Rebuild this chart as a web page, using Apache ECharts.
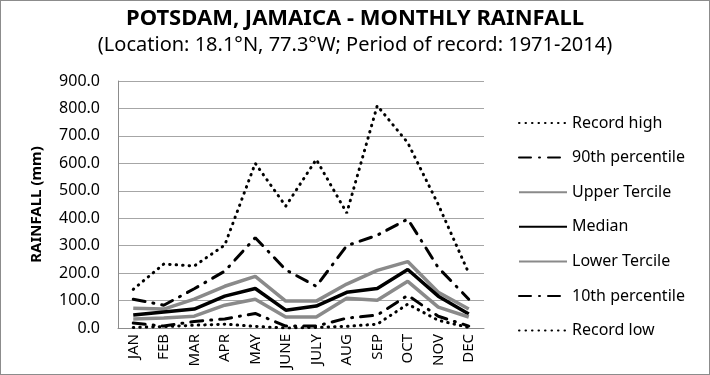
<!DOCTYPE html>
<html>
<head>
<meta charset="utf-8">
<script src="https://cdn.jsdelivr.net/npm/echarts@6/dist/echarts.min.js"></script>
<style>
  html, body {margin: 0; padding: 0; background: #fff;}
  #chart {width: 708px; height: 373px; border: 1px solid #8c8c8c;}
</style>
</head>
<body>
<div id="chart"></div>
<script>
const months = ['JAN', 'FEB', 'MAR', 'APR', 'MAY', 'JUNE', 'JULY', 'AUG', 'SEP', 'OCT', 'NOV', 'DEC'];
const recordHigh = [141, 233, 226, 302, 600, 444, 614, 419, 810, 675, 450, 200];
const pct90 = [105, 83, 143, 207, 329, 212, 152, 300, 338, 397, 220, 105];
const upperTercile = [72, 69, 105, 152, 188, 98, 98, 160, 210, 242, 130, 69];
const median = [47, 58, 69, 116, 144, 65, 80, 130, 144, 213, 116, 51];
const lowerTercile = [33, 36, 43, 83, 105, 40, 40, 108, 101, 170, 76, 40];
const pct10 = [18, 7, 24, 33, 53, 7, 7, 36, 47, 119, 43, 7];
const recordLow = [2, 5, 10, 14, 6, 0, 2, 6, 14, 87, 28, 2];
const yTicks = [0, 100, 200, 300, 400, 500, 600, 700, 800, 900];

const font = 'Noto Sans';
const dotted = {color: '#000', width: 3, type: [0.5, 6], cap: 'round'};
const dashDot = {color: '#000', width: 3, type: [12, 8, 1, 8], cap: 'round'};
const grayLine = {color: '#8a8a8a', width: 3.5};
const blackLine = {color: '#000', width: 3.5};

const mk = (name, data, lineStyle) => ({
  name, type: 'line', data, symbol: 'none', lineStyle,
  itemStyle: {color: lineStyle.color}
});

const chart = echarts.init(document.getElementById('chart'));
chart.setOption({
  animation: false,
  title: {
    text: 'POTSDAM, JAMAICA - MONTHLY RAINFALL',
    subtext: '(Location: 18.1°N, 77.3°W; Period of record: 1971-2014)',
    left: 'center',
    top: 2,
    itemGap: 5,
    textStyle: {fontFamily: font, fontSize: 22, fontWeight: 'bold', color: '#000'},
    subtextStyle: {fontFamily: font, fontSize: 20, color: '#000'}
  },
  legend: {
    orient: 'vertical',
    left: 512,
    top: 109,
    itemWidth: 48,
    itemHeight: 14,
    itemGap: 18.6,
    itemStyle: {opacity: 0},
    textStyle: {fontFamily: font, fontSize: 16, color: '#000'},
    data: ['Record high', '90th percentile', 'Upper Tercile', 'Median', 'Lower Tercile', '10th percentile', 'Record low']
  },
  grid: {left: 117, right: 225, top: 80, bottom: 46},
  xAxis: {
    type: 'category',
    data: months,
    axisLine: {lineStyle: {color: '#8c8c8c'}},
    axisTick: {show: false},
    axisLabel: {rotate: 90, fontFamily: font, fontSize: 15, color: '#000', margin: 6}
  },
  yAxis: {
    type: 'value',
    min: yTicks[0],
    max: yTicks[yTicks.length - 1],
    interval: 100,
    name: 'RAINFALL (mm)',
    nameLocation: 'middle',
    nameGap: 74,
    nameTextStyle: {fontFamily: font, fontSize: 15, fontWeight: 'bold', color: '#000'},
    axisLine: {show: true, lineStyle: {color: '#8c8c8c'}},
    axisTick: {show: false},
    axisLabel: {fontFamily: font, fontSize: 16, color: '#000', margin: 18, formatter: v => v.toFixed(1)},
    splitLine: {lineStyle: {color: '#a6a6a6', width: 1}}
  },
  series: [
    mk('Record high', recordHigh, dotted),
    mk('90th percentile', pct90, dashDot),
    mk('Upper Tercile', upperTercile, grayLine),
    mk('Median', median, blackLine),
    mk('Lower Tercile', lowerTercile, grayLine),
    mk('10th percentile', pct10, dashDot),
    mk('Record low', recordLow, dotted)
  ]
});
</script>
</body>
</html>
